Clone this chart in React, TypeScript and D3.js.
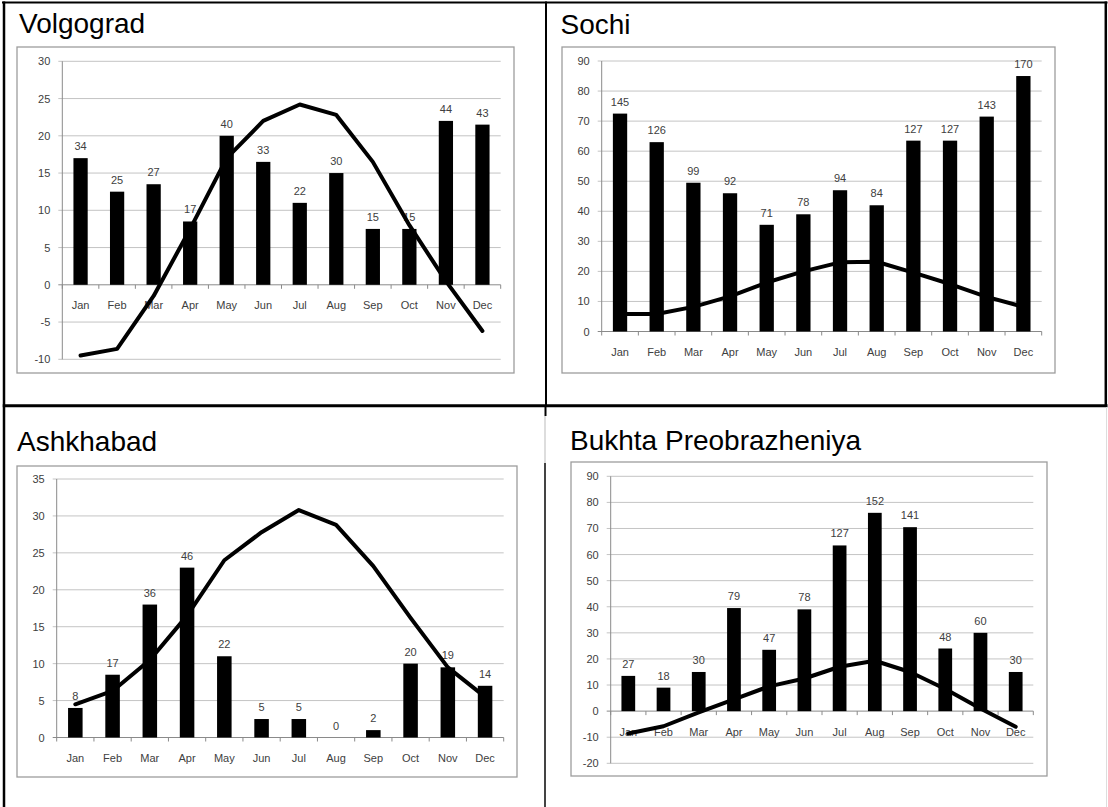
import React from "react";
import * as d3 from "d3";

const months = ["Jan", "Feb", "Mar", "Apr", "May", "Jun", "Jul", "Aug", "Sep", "Oct", "Nov", "Dec"];

// Precipitation (mm) — bars are drawn at half value, labels show mm
const volgogradPrecip = [34, 25, 27, 17, 40, 33, 22, 30, 15, 15, 44, 43];
const volgogradTemp = [-9.5, -8.6, -1.5, 7.5, 17, 22, 24.2, 22.8, 16.5, 8, 0.5, -6.2];
const volgogradTicks = [-10, -5, 0, 5, 10, 15, 20, 25, 30];

const sochiPrecip = [145, 126, 99, 92, 71, 78, 94, 84, 127, 127, 143, 170];
const sochiTemp = [5.8, 5.8, 8.2, 11.7, 16.3, 20, 23, 23.2, 19.6, 15.8, 11.5, 8.2];
const sochiTicks = [0, 10, 20, 30, 40, 50, 60, 70, 80, 90];

const ashkhabadPrecip = [8, 17, 36, 46, 22, 5, 5, 0, 2, 20, 19, 14];
const ashkhabadTemp = [4.5, 6.3, 10.5, 16.5, 24, 27.8, 30.8, 28.8, 23.2, 16.2, 9.5, 5.5];
const ashkhabadTicks = [0, 5, 10, 15, 20, 25, 30, 35];

const bukhtaPrecip = [27, 18, 30, 79, 47, 78, 127, 152, 141, 48, 60, 30];
const bukhtaTemp = [-8.6, -5.8, -0.5, 4.5, 9.5, 12.5, 17, 19.3, 15, 8.5, 1, -6];
const bukhtaTicks = [-20, -10, 0, 10, 20, 30, 40, 50, 60, 70, 80, 90];

const SMALL_FONT = "'Liberation Sans', Arial, sans-serif";
const TEXT_COLOR = "#404040";

type PanelProps = {
  title: string;
  titleX: number;
  titleY: number;
  box: [number, number, number, number];
  plot: { x0: number; x1: number; yTop: number; yBot: number };
  ticks: number[];
  precip: number[];
  temp: number[];
};

function Panel(p: PanelProps) {
  const { plot, ticks } = p;
  const x = d3.scaleBand<string>().domain(months).range([plot.x0, plot.x1]).paddingInner(0.61).paddingOuter(0.305);
  const step = x.step();
  const y = d3.scaleLinear().domain([ticks[0], ticks[ticks.length - 1]]).range([plot.yBot, plot.yTop]);
  const y0 = y(0);
  const center = (m: string) => (x(m) as number) + x.bandwidth() / 2;
  const line = d3
    .line<number>()
    .x((_, i) => center(months[i]))
    .y((d) => y(d));
  const boundaries = d3.range(months.length + 1).map((i) => plot.x0 + i * step);

  return (
    <g>
      <text x={p.titleX} y={p.titleY} fontFamily="'Liberation Sans', Arial, sans-serif" fontSize={28} fill="#000">
        {p.title}
      </text>
      <rect
        x={p.box[0]}
        y={p.box[1]}
        width={p.box[2] - p.box[0]}
        height={p.box[3] - p.box[1]}
        fill="#fff"
        stroke="#9d9d9d"
        strokeWidth={1.3}
      />
      {/* gridlines */}
      {ticks.map((t) => (
        <g key={"g" + t}>
          <line x1={plot.x0 - 4} x2={plot.x1} y1={y(t)} y2={y(t)} stroke={t === 0 ? "#8a8a8a" : "#c4c4c4"} strokeWidth={1} />
          <text
            x={plot.x0 - 12}
            y={y(t) + 4}
            textAnchor="end"
            fontFamily={SMALL_FONT}
            fontSize={11}
            fill={TEXT_COLOR}
          >
            {t}
          </text>
        </g>
      ))}
      {/* y axis */}
      <line x1={plot.x0} x2={plot.x0} y1={plot.yTop} y2={plot.yBot} stroke="#8a8a8a" strokeWidth={1} />
      {/* category ticks */}
      {boundaries.map((bx, i) => (
        <line key={"t" + i} x1={bx} x2={bx} y1={y0} y2={y0 + 4} stroke="#8a8a8a" strokeWidth={1} />
      ))}
      {/* month labels */}
      {months.map((m) => (
        <text
          key={"m" + m}
          x={center(m)}
          y={y0 + 24.5}
          textAnchor="middle"
          fontFamily={SMALL_FONT}
          fontSize={11}
          fill={TEXT_COLOR}
        >
          {m}
        </text>
      ))}
      {/* value labels */}
      {p.precip.map((v, i) => (
        <text
          key={"v" + i}
          x={center(months[i])}
          y={y(v / 2) - 8}
          textAnchor="middle"
          fontFamily={SMALL_FONT}
          fontSize={11}
          fill={TEXT_COLOR}
        >
          {v}
        </text>
      ))}
      {/* bars */}
      {p.precip.map((v, i) => (
        <rect
          key={"b" + i}
          x={x(months[i]) as number}
          y={y(v / 2)}
          width={x.bandwidth()}
          height={Math.max(0, y0 - y(v / 2))}
          fill="#000"
        />
      ))}
      {/* temperature line */}
      <path d={line(p.temp) as string} fill="none" stroke="#000" strokeWidth={4} strokeLinejoin="round" strokeLinecap="round" />
    </g>
  );
}

export default function App() {
  return (
    <svg
      width={1108}
      height={807}
      style={{ position: "absolute", left: 0, top: 0, background: "#fff" }}
      xmlns="http://www.w3.org/2000/svg"
    >
      <rect x={0} y={0} width={1108} height={807} fill="#fff" />
      <Panel
        title="Volgograd"
        titleX={19}
        titleY={33}
        box={[17, 47, 514, 373]}
        plot={{ x0: 62.3, x1: 500.7, yTop: 61.3, yBot: 359.3 }}
        ticks={volgogradTicks}
        precip={volgogradPrecip}
        temp={volgogradTemp}
      />
      <Panel
        title="Sochi"
        titleX={560.5}
        titleY={34}
        box={[562, 47, 1055, 373]}
        plot={{ x0: 601.7, x1: 1041.7, yTop: 61, yBot: 331.5 }}
        ticks={sochiTicks}
        precip={sochiPrecip}
        temp={sochiTemp}
      />
      <Panel
        title="Ashkhabad"
        titleX={17}
        titleY={451}
        box={[17, 466, 517, 777]}
        plot={{ x0: 56.7, x1: 503.7, yTop: 479, yBot: 737.5 }}
        ticks={ashkhabadTicks}
        precip={ashkhabadPrecip}
        temp={ashkhabadTemp}
      />
      <Panel
        title="Bukhta Preobrazheniya"
        titleX={570}
        titleY={450}
        box={[571, 462, 1047, 776]}
        plot={{ x0: 610.7, x1: 1033.3, yTop: 476.3, yBot: 763.3 }}
        ticks={bukhtaTicks}
        precip={bukhtaPrecip}
        temp={bukhtaTemp}
      />
      {/* table borders */}
      <line x1={2} x2={1107.5} y1={2.5} y2={2.5} stroke="#000" strokeWidth={2} />
      <line x1={4} x2={4} y1={1.5} y2={807} stroke="#000" strokeWidth={2.5} />
      <line x1={546} x2={546} y1={1.5} y2={407} stroke="#000" strokeWidth={2} />
      <line x1={1105.8} x2={1105.8} y1={1.5} y2={407} stroke="#000" strokeWidth={2.5} />
      <line x1={2.75} x2={1107.5} y1={405.8} y2={405.8} stroke="#000" strokeWidth={3} />
      <line x1={545.5} x2={545.5} y1={405} y2={416} stroke="#000" strokeWidth={2} />
      <line x1={545} x2={545} y1={416} y2={463} stroke="#bbb" strokeWidth={1} />
      <line x1={545} x2={545} y1={463} y2={807} stroke="#444" strokeWidth={2} />
      <line x1={1106.5} x2={1106.5} y1={407} y2={807} stroke="#ddd" strokeWidth={1} />
    </svg>
  );
}
